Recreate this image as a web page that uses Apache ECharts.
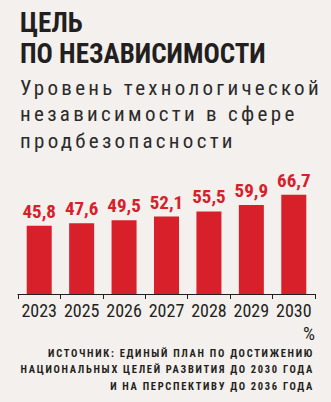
<!DOCTYPE html>
<html>
<head>
<meta charset="utf-8">
<script src="https://cdn.jsdelivr.net/npm/echarts@6/dist/echarts.min.js"></script>
<style>
html,body{margin:0;padding:0;background:#f3f0ed;}
#c{width:331px;height:402px;}
text[style*="spacedsub"], text[font-family*="spacedsub"]{letter-spacing:3.3px;}
text[style*="spacedsrc"], text[font-family*="spacedsrc"]{letter-spacing:1.7px;}
</style>
</head>
<body>
<div id="c"></div>
<script>
const titleLines = ['ЦЕЛЬ', 'ПО НЕЗАВИСИМОСТИ'];
const subtitleLines = ['Уровень технологической', 'независимости в сфере', 'продбезопасности'];
const categories = ['2023', '2025', '2026', '2027', '2028', '2029', '2030'];
const values = [45.8, 47.6, 49.5, 52.1, 55.5, 59.9, 66.7];
const unitLabel = '%';
const sourceLines = ['ИСТОЧНИК: ЕДИНЫЙ ПЛАН ПО ДОСТИЖЕНИЮ', 'НАЦИОНАЛЬНЫХ ЦЕЛЕЙ РАЗВИТИЯ ДО 2030 ГОДА', 'И НА ПЕРСПЕКТИВУ ДО 2036 ГОДА'];

const COND = "'Roboto Condensed', 'DejaVu Sans Condensed', sans-serif";
const INK = '#231f20';
const RED = '#d8202a';

const chart = echarts.init(document.getElementById('c'), null, {renderer: 'svg'});
chart.setOption({
  backgroundColor: '#f3f0ed',
  animation: false,
  grid: {left: 18, right: 16, top: 175, bottom: 108},
  xAxis: {
    type: 'category',
    data: categories,
    axisLine: {lineStyle: {color: INK, width: 1}},
    axisTick: {show: true, length: 5, lineStyle: {color: INK}},
    axisLabel: {interval: 0, color: INK, fontFamily: COND, fontSize: 18, margin: 7}
  },
  yAxis: {type: 'value', min: 0, max: 80, show: false, splitLine: {show: false}},
  series: [{
    type: 'bar',
    data: values,
    barWidth: 25,
    itemStyle: {color: RED},
    label: {
      show: true, position: 'top', distance: 5,
      color: RED, fontFamily: COND, fontWeight: 'bold', fontSize: 19,
      formatter: p => String(p.value).replace('.', ',')
    }
  }],
  graphic: [
    {type: 'text', left: 20, top: 9, style: {text: titleLines[0], fontFamily: COND, fontWeight: 'bold', fontSize: 27, fill: INK}},
    {type: 'text', left: 20, top: 40.5, style: {text: titleLines[1], fontFamily: COND, fontWeight: 'bold', fontSize: 27, fill: INK}},
    {type: 'text', left: 20, top: 74.6, style: {text: subtitleLines.join('\n'), lineHeight: 26.5, fontFamily: "spacedsub, " + COND, fontSize: 21, fill: '#2b2b2b'}},
    {type: 'text', right: 16, top: 323.5, style: {text: unitLabel, fontFamily: COND, fontSize: 19, fill: INK, align: 'right', textAlign: 'right'}},
    {type: 'text', right: 17, top: 345.5, style: {text: sourceLines.join('\n'), lineHeight: 16.2, align: 'right', textAlign: 'right', fontFamily: "spacedsrc, " + COND, fontWeight: 'bold', fontSize: 10.5, fill: INK}}
  ]
});
</script>
</body>
</html>
